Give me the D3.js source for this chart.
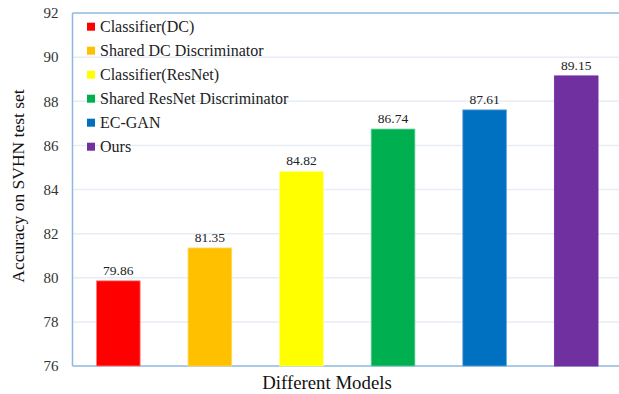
<!DOCTYPE html>
<html>
<head>
<meta charset="utf-8">
<script src="https://cdn.jsdelivr.net/npm/d3@7"></script>
<style>
  html, body { margin: 0; padding: 0; background: #fff; }
  svg text { font-family: "Liberation Serif", "Times New Roman", Times, serif; }
</style>
</head>
<body>
<svg id="chart" width="619" height="394"></svg>
<script>
// Model names, accuracies and colours
const models = ["Classifier(DC)", "Shared DC Discriminator", "Classifier(ResNet)",
                "Shared ResNet Discriminator", "EC-GAN", "Ours"];
const accuracy = [79.86, 81.35, 84.82, 86.74, 87.61, 89.15];
const colors = ["#ff0000", "#ffc000", "#ffff00", "#00b050", "#0070c0", "#7030a0"];
const strokes = ["#ff8080", "#ffd966", "#ffff80", "#66cc99", "#6fa8dc", "#7030a0"];
const yTicks = [76, 78, 80, 82, 84, 86, 88, 90, 92];

const serif = "Liberation Serif, Times New Roman, Times, serif";
const svg = d3.select("#chart");
const plotLeft = 72.5, plotRight = 622, plotTop = 13, plotBottom = 366;

const x = d3.scaleBand().domain(models).range([plotLeft, plotRight])
  .paddingInner(0.523).paddingOuter(0.2615);
const y = d3.scaleLinear().domain([76, 92]).range([plotBottom, plotTop]);

// horizontal gridlines
svg.append("g").selectAll("line").data(yTicks.slice(1, -1)).join("line")
  .attr("x1", plotLeft).attr("x2", 619)
  .attr("y1", d => y(d)).attr("y2", d => y(d))
  .attr("stroke", "#e6edf6").attr("stroke-width", 1.5);

// plot frame lines (left, top, bottom)
const axisColor = "#8fb8e0";
svg.append("line").attr("x1", plotLeft).attr("x2", plotLeft).attr("y1", plotTop).attr("y2", plotBottom)
  .attr("stroke", axisColor).attr("stroke-width", 1.5);
svg.append("line").attr("x1", plotLeft).attr("x2", 619).attr("y1", plotTop).attr("y2", plotTop)
  .attr("stroke", axisColor).attr("stroke-width", 1.5);
svg.append("line").attr("x1", plotLeft).attr("x2", 619).attr("y1", plotBottom).attr("y2", plotBottom)
  .attr("stroke", axisColor).attr("stroke-width", 1.5);

// y axis labels
const yAxis = d3.axisLeft(y).tickValues(yTicks).tickSize(0).tickPadding(14);
const gy = svg.append("g").attr("transform", `translate(${plotLeft},0)`).call(yAxis)
  .attr("font-family", serif);
gy.select(".domain").remove();
gy.selectAll("text").attr("font-size", 15).attr("fill", "#333")
  .attr("font-family", serif);

// bars
svg.append("g").selectAll("rect").data(models).join("rect")
  .attr("x", d => x(d)).attr("width", x.bandwidth())
  .attr("y", (d, i) => y(accuracy[i]))
  .attr("height", (d, i) => plotBottom - y(accuracy[i]))
  .attr("fill", (d, i) => colors[i])
  .attr("stroke", (d, i) => strokes[i]).attr("stroke-width", 0.8);

// value labels
svg.append("g").selectAll("text").data(models).join("text")
  .attr("x", d => x(d) + x.bandwidth() / 2)
  .attr("y", (d, i) => y(accuracy[i]) - 6)
  .attr("text-anchor", "middle").attr("font-size", 13.5).attr("fill", "#222")
  .attr("font-family", serif)
  .text((d, i) => accuracy[i].toFixed(2));

// legend
const leg = svg.append("g");
models.forEach((m, i) => {
  const cy = 26.7 + i * 24;
  leg.append("rect").attr("x", 87).attr("y", cy - 4).attr("width", 8).attr("height", 8)
    .attr("fill", colors[i]);
  leg.append("text").attr("x", 100).attr("y", cy + 5.5).attr("font-size", 16)
    .attr("font-family", serif).attr("fill", "#222").text(m);
});

// axis titles
svg.append("text").attr("x", 327).attr("y", 388.5)
  .attr("text-anchor", "middle").attr("font-size", 18.8).attr("fill", "#111")
  .attr("font-family", serif)
  .text("Different Models");
svg.append("text").attr("transform", "translate(23.5,186) rotate(-90)")
  .attr("text-anchor", "middle").attr("font-size", 17.5).attr("fill", "#111")
  .attr("font-family", serif)
  .text("Accuracy on SVHN test set");
</script>
</body>
</html>
